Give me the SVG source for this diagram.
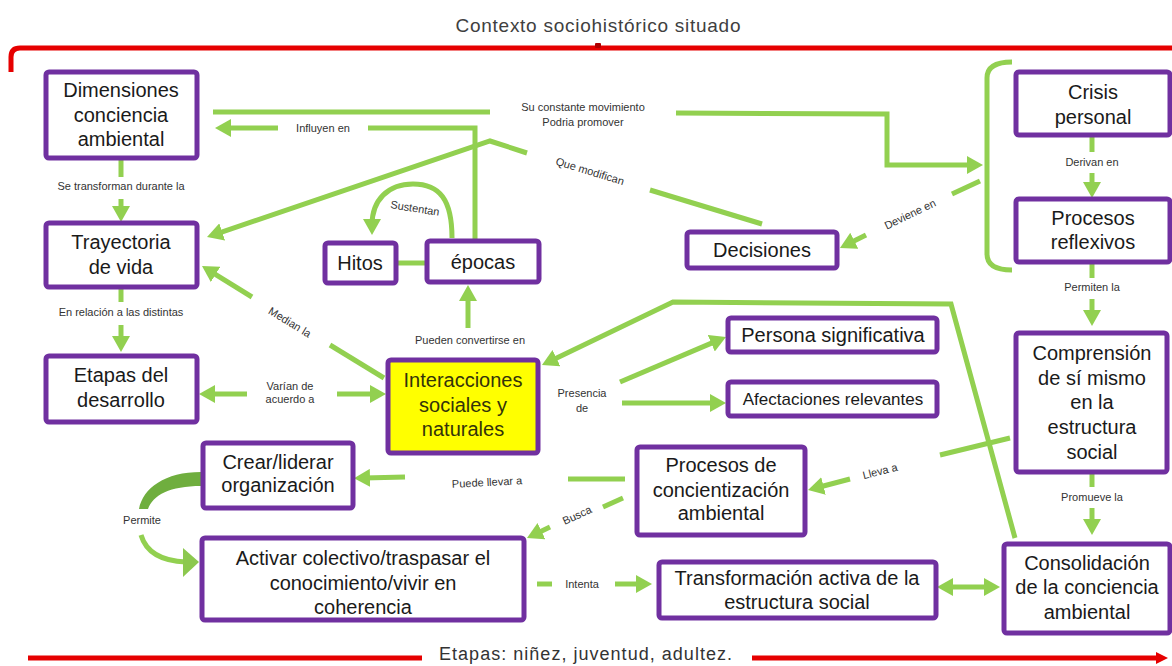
<svg xmlns="http://www.w3.org/2000/svg" width="1172" height="666" viewBox="0 0 1172 666">
<defs>
<style>
.n rect{fill:#fff;stroke:#7030A0;stroke-width:5}
.n text{font-family:"Liberation Sans",Arial,sans-serif;font-size:20px;fill:#1a1a1a;text-anchor:middle}
.c line,.c path.l,.c polyline{stroke:#92D050;stroke-width:5;fill:none}
.lb{font-family:"Liberation Sans",Arial,sans-serif;font-size:11px;fill:#333;text-anchor:middle}
.red{stroke:#E60000;stroke-width:5;fill:none}
</style>
<marker id="ah" viewBox="0 0 16 18" markerWidth="16" markerHeight="18" markerUnits="userSpaceOnUse" refX="6" refY="9" orient="auto-start-reverse">
<path d="M0,0 L16,9 L0,18 z" fill="#92D050"/>
</marker>
<marker id="rh" viewBox="0 0 12 12" markerWidth="12" markerHeight="12" markerUnits="userSpaceOnUse" refX="4" refY="6" orient="auto">
<path d="M0,0 L12,6 L0,12 z" fill="#E60000"/>
</marker>
</defs>
<rect width="1172" height="666" fill="#fff"/>

<g id="frame">
<text x="598" y="32" font-family="Liberation Sans,Arial,sans-serif" font-size="19" fill="#404040" text-anchor="middle" textLength="285" lengthAdjust="spacing">Contexto sociohistórico situado</text>
<path class="red" d="M1172,48 L20,48 Q11,48 11,57 L11,72"/>
<rect x="595" y="43" width="6" height="5" rx="1" fill="#B00000"/>
<line class="red" x1="28" y1="658" x2="422" y2="658"/>
<line class="red" x1="752" y1="658" x2="1160" y2="658" marker-end="url(#rh)"/>
<text x="585.5" y="660" font-family="Liberation Sans,Arial,sans-serif" font-size="18" fill="#333" text-anchor="middle" textLength="293" lengthAdjust="spacing">Etapas: niñez, juventud, adultez.</text>
</g>

<g id="connectors" class="c">
<!-- Dimensiones -> Trayectoria -->
<line x1="121" y1="159" x2="121" y2="177"/>
<line x1="121" y1="199" x2="121" y2="212" marker-end="url(#ah)"/>
<text class="lb" x="121" y="190" font-size="10.5">Se transforman durante la</text>
<!-- Trayectoria -> Etapas -->
<line x1="121" y1="289" x2="121" y2="302"/>
<line x1="121" y1="325" x2="121" y2="342" marker-end="url(#ah)"/>
<text class="lb" x="121" y="316" font-size="10.5">En relación a las distintas</text>
<!-- Varian de acuerdo a -->
<line x1="247" y1="394" x2="209" y2="394" marker-end="url(#ah)"/>
<line x1="337" y1="394" x2="376" y2="394" marker-end="url(#ah)"/>
<text class="lb" x="290" y="390">Varían de</text>
<text class="lb" x="290" y="403">acuerdo a</text>
<!-- Median la -->
<line x1="252" y1="297" x2="210.5" y2="271.3" marker-end="url(#ah)"/>
<line x1="330" y1="345" x2="384" y2="378"/>
<text class="lb" x="290" y="326" transform="rotate(31.5 290 322)" font-size="12">Median la</text>
<!-- Pueden convertirse en -->
<line x1="468" y1="328" x2="468" y2="295" marker-end="url(#ah)"/>
<text class="lb" x="470" y="344" font-size="10.5">Pueden convertirse en</text>
<!-- Hitos - epocas -->
<line x1="396" y1="263" x2="427" y2="263"/>
<!-- Sustentan -->
<path class="l" d="M452,238 C452,200 440,184 413,184 C388,184 372,200 372,225" stroke="#82C24A" stroke-width="6" marker-end="url(#ah)"/>
<text class="lb" x="415" y="212" transform="rotate(9 415 208)" font-size="11.5">Sustentan</text>
<!-- Influyen en -->
<polyline points="475,240 475,128 368,128"/>
<line x1="278" y1="128" x2="225" y2="128" marker-end="url(#ah)"/>
<text class="lb" x="323" y="132" font-size="12">Influyen en</text>
<!-- Su constante movimiento -->
<line x1="213" y1="112" x2="490" y2="112"/>
<polyline points="676,113 887,114 887,165 973,165" marker-end="url(#ah)"/>
<text class="lb" x="583" y="111" font-size="12.5">Su constante movimiento</text>
<text class="lb" x="583" y="126" font-size="12.5">Podria promover</text>
<!-- Que modifican -->
<line x1="762" y1="224" x2="650" y2="190"/>
<polyline points="527,153 490,141 216.5,233.8" marker-end="url(#ah)"/>
<text class="lb" x="590" y="175" transform="rotate(17 590 171)" font-size="12.5">Que modifican</text>
<!-- Deviene en -->
<line x1="980" y1="181" x2="952" y2="194"/>
<line x1="866" y1="235" x2="848.9" y2="243.5" marker-end="url(#ah)"/>
<text class="lb" x="910" y="218" transform="rotate(-25.6 910 214)" font-size="11.5">Deviene en</text>
<!-- Bracket -->
<path class="l" d="M1012,62 Q987,62 987,78 L987,254 Q987,270 1012,270"/>
<!-- Derivan en -->
<line x1="1092" y1="137" x2="1092" y2="152"/>
<line x1="1092" y1="173" x2="1092" y2="188" marker-end="url(#ah)"/>
<text class="lb" x="1092" y="166" font-size="10">Derivan en</text>
<!-- Permiten la -->
<line x1="1092" y1="264" x2="1092" y2="278"/>
<line x1="1092" y1="299" x2="1092" y2="316" marker-end="url(#ah)"/>
<text class="lb" x="1092" y="291" font-size="10">Permiten la</text>
<!-- Promueve la -->
<line x1="1092" y1="474" x2="1092" y2="487"/>
<line x1="1092" y1="508" x2="1092" y2="525" marker-end="url(#ah)"/>
<text class="lb" x="1092" y="501" font-size="10">Promueve la</text>
<!-- Lleva a -->
<line x1="1010" y1="438" x2="940" y2="455"/>
<line x1="850" y1="479" x2="817.7" y2="487.5" marker-end="url(#ah)"/>
<text class="lb" x="880" y="475" transform="rotate(-14 880 471)" font-size="11.5">Lleva a</text>
<!-- Consolidacion -> Interacciones -->
<polyline points="1015,538 951,304 673,302 551,360.7" marker-end="url(#ah)"/>
<!-- Presencia de -->
<line x1="620" y1="382" x2="716.8" y2="340.9" marker-end="url(#ah)"/>
<line x1="622" y1="403" x2="716" y2="403" marker-end="url(#ah)"/>
<text class="lb" x="582" y="397" font-size="11.5">Presencia</text>
<text class="lb" x="582" y="412" font-size="11.5">de</text>
<!-- Puede llevar a -->
<line x1="625" y1="479" x2="568" y2="479"/>
<line x1="405" y1="477" x2="364" y2="478" marker-end="url(#ah)"/>
<text class="lb" x="487" y="486" transform="rotate(-3 487 482)" font-size="12">Puede llevar a</text>
<!-- Busca -->
<line x1="623" y1="498" x2="603" y2="507"/>
<line x1="550" y1="527" x2="536" y2="533.7" marker-end="url(#ah)"/>
<text class="lb" x="577" y="519" transform="rotate(-25 577 515)" font-size="10">Busca</text>
<!-- Intenta -->
<line x1="537" y1="584" x2="552" y2="584"/>
<line x1="615" y1="584" x2="642" y2="584" marker-end="url(#ah)"/>
<text class="lb" x="582" y="588">Intenta</text>
<!-- Transformacion <-> Consolidacion -->
<line x1="947" y1="587" x2="990" y2="587" marker-start="url(#ah)" marker-end="url(#ah)"/>
<!-- Permite -->
<path d="M201,472 C165,472 143,488 139,509 L148,509 C153,495 170,486 201,486 Z" fill="#6FAE3E"/>
<path class="l" d="M141,535 C146,552 160,561 186,562" stroke="#8CC84F" stroke-width="9"/>
<polygon points="183,548 199,562 183,577" fill="#8CC84F"/>
<text class="lb" x="142" y="524">Permite</text>
</g>

<g id="n-dimensiones" class="n"><rect x="46" y="72" width="151" height="86" rx="3"/>
<text x="121" y="97">Dimensiones</text><text x="121" y="122">conciencia</text><text x="121" y="146">ambiental</text></g>
<g id="n-trayectoria" class="n"><rect x="46" y="223" width="151" height="64" rx="3"/>
<text x="121" y="249">Trayectoria</text><text x="121" y="274">de vida</text></g>
<g id="n-etapas" class="n"><rect x="46" y="356" width="151" height="66" rx="3"/>
<text x="121" y="382">Etapas del</text><text x="121" y="407">desarrollo</text></g>
<g id="n-hitos" class="n"><rect x="325" y="243" width="71" height="40" rx="3"/>
<text x="360" y="270">Hitos</text></g>
<g id="n-epocas" class="n"><rect x="427" y="241" width="112" height="41" rx="3"/>
<text x="483" y="269">épocas</text></g>
<g id="n-decisiones" class="n"><rect x="687" y="232" width="150" height="36" rx="3"/>
<text x="762" y="257">Decisiones</text></g>
<g id="n-crisis" class="n"><rect x="1016" y="72" width="154" height="63" rx="3"/>
<text x="1093" y="99">Crisis</text><text x="1093" y="124">personal</text></g>
<g id="n-reflexivos" class="n"><rect x="1016" y="199" width="154" height="63" rx="3"/>
<text x="1093" y="225">Procesos</text><text x="1093" y="249">reflexivos</text></g>
<g id="n-comprension" class="n"><rect x="1016" y="333" width="151" height="139" rx="3"/>
<text x="1092" y="360">Comprensión</text><text x="1092" y="385">de sí mismo</text><text x="1092" y="409">en la</text><text x="1092" y="434">estructura</text><text x="1092" y="459">social</text></g>
<g id="n-consolidacion" class="n"><rect x="1004" y="544" width="166" height="89" rx="3"/>
<text x="1087" y="570">Consolidación</text><text x="1087" y="594">de la conciencia</text><text x="1087" y="619">ambiental</text></g>
<g id="n-interacciones" class="n"><rect x="388" y="360" width="150" height="93" rx="3" style="fill:#FFFF00"/>
<text x="463" y="387" style="fill:#33330a">Interacciones</text><text x="463" y="412" style="fill:#33330a">sociales y</text><text x="463" y="436" style="fill:#33330a">naturales</text></g>
<g id="n-persona" class="n"><rect x="728" y="318" width="209" height="34" rx="3"/>
<text x="833" y="342">Persona significativa</text></g>
<g id="n-afectaciones" class="n"><rect x="728" y="382" width="209" height="34" rx="3"/>
<text x="833" y="405" style="font-size:17px">Afectaciones relevantes</text></g>
<g id="n-concientizacion" class="n"><rect x="637" y="447" width="168" height="88" rx="3"/>
<text x="721" y="472">Procesos de</text><text x="721" y="497">concientización</text><text x="721" y="520">ambiental</text></g>
<g id="n-crear" class="n"><rect x="203" y="443" width="150" height="65" rx="3"/>
<text x="278" y="469">Crear/liderar</text><text x="278" y="492">organización</text></g>
<g id="n-activar" class="n"><rect x="202" y="538" width="322" height="82" rx="3"/>
<text x="363" y="565">Activar colectivo/traspasar el</text><text x="363" y="590">conocimiento/vivir en</text><text x="363" y="614">coherencia</text></g>
<g id="n-transformacion" class="n"><rect x="659" y="562" width="277" height="56" rx="3"/>
<text x="797" y="585">Transformación activa de la</text><text x="797" y="609">estructura social</text></g>
</svg>
